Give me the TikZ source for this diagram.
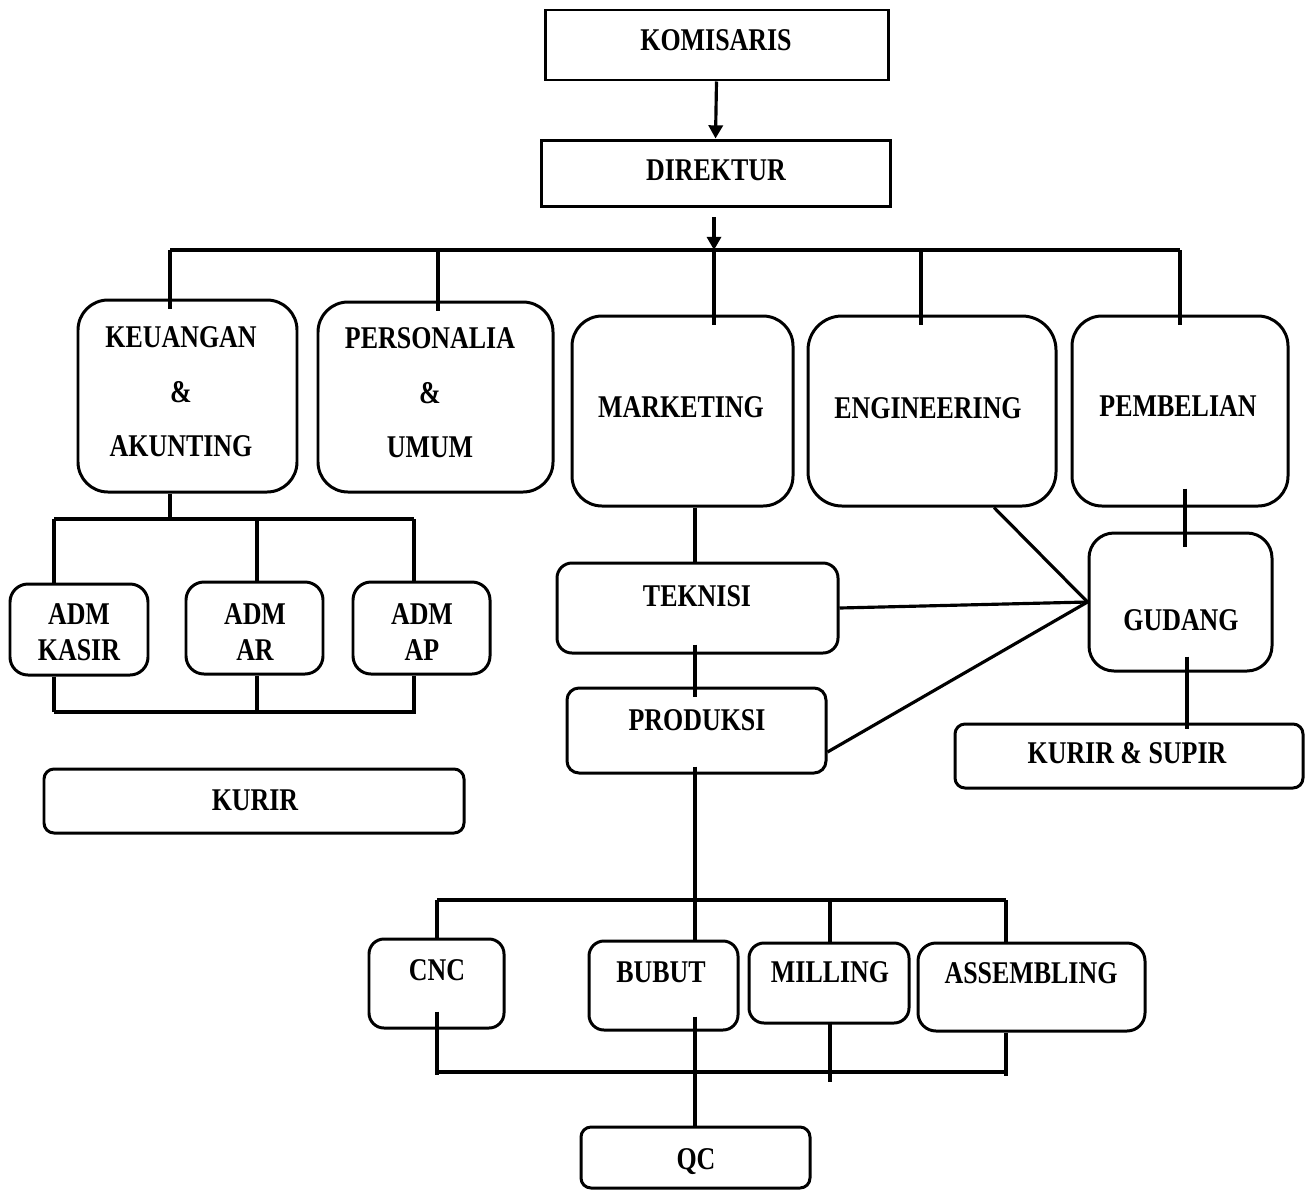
\documentclass[tikz,border=0pt]{standalone}
\usepackage{fontspec}
\newfontfamily\orgfont{Liberation Serif}[FakeStretch=0.82]
\usetikzlibrary{arrows.meta}
\tikzset{
  orgbox/.style={draw, line width=1.7pt, inner sep=0pt},
  orgtxt/.style={font=\orgfont\bfseries\fontsize{18}{31}\selectfont, align=center, inner sep=0pt},
  smalltxt/.style={font=\orgfont\bfseries\fontsize{18}{20.5}\selectfont, align=center, inner sep=0pt},
  conn/.style={line width=1.8pt},
  arrowconn/.style={line width=1.8pt, -{Triangle[length=7.5pt,width=8pt]}},
  poke/.style={shorten >=-0.2cm}
}
\newcommand\orgbox[6]{\node[orgbox, rounded corners={#6*0.02cm}, minimum width={(#4-#2)*0.02cm}, minimum height={(#5-#3)*0.02cm}] (#1) at ({(#2+#4)/2},{(#3+#5)/2}) {};}
\begin{document}
\begin{tikzpicture}[x=0.02cm,y=-0.02cm]
\useasboundingbox (0,0) rectangle (1311,1191);
% boxes
\orgbox{komisaris}{545}{10}{888}{80}{0}
\orgbox{direktur}{541}{140}{890}{206}{0}
\orgbox{keu}{78}{300}{297}{492}{30}
\orgbox{pers}{318}{302}{553}{492}{30}
\orgbox{mkt}{572}{316}{793}{506}{30}
\orgbox{eng}{808}{316}{1056}{506}{34}
\orgbox{pemb}{1072}{316}{1288}{506}{30}
\orgbox{kasir}{10}{584}{148}{675}{18}
\orgbox{ar}{186}{582}{323}{674}{18}
\orgbox{ap}{353}{582}{490}{674}{18}
\orgbox{kurir}{44}{769}{464}{833}{10}
\orgbox{teknisi}{557}{563}{838}{653}{15}
\orgbox{produksi}{567}{688}{826}{773}{12}
\orgbox{gudang}{1089}{533}{1272}{671}{25}
\orgbox{kursup}{955}{724}{1303}{788}{10}
\orgbox{cnc}{369}{939}{504}{1028}{15}
\orgbox{bubut}{589}{941}{738}{1030}{15}
\orgbox{milling}{749}{943}{909}{1023}{15}
\orgbox{assem}{918}{943}{1145}{1031}{18}
\orgbox{qc}{581}{1127}{810}{1188}{10}
% texts
\node[orgtxt] (t-komisaris) at (716,40) {KOMISARIS};
\node[orgtxt] (t-direktur) at (716,170) {DIREKTUR};
\node[orgtxt] (t-keu) at (181,392) {KEUANGAN\\\&\\AKUNTING};
\node[orgtxt] (t-pers) at (430,393) {PERSONALIA\\\&\\UMUM};
\node[orgtxt] (t-mkt) at (681,407) {MARKETING};
\node[orgtxt] (t-eng) at (928,408) {ENGINEERING};
\node[orgtxt] (t-pemb) at (1178,406) {PEMBELIAN};
\node[smalltxt] (t-kasir) at (79,632) {ADM\\KASIR};
\node[smalltxt] (t-ar) at (255,632) {ADM\\AR};
\node[smalltxt] (t-ap) at (422,632) {ADM\\AP};
\node[orgtxt] (t-kurir) at (255,800) {KURIR};
\node[orgtxt] (t-teknisi) at (697,596) {TEKNISI};
\node[orgtxt] (t-produksi) at (697,720) {PRODUKSI};
\node[orgtxt] (t-gudang) at (1181,620) {GUDANG};
\node[orgtxt] (t-kursup) at (1127,753) {KURIR \& SUPIR};
\node[orgtxt] (t-cnc) at (437,970) {CNC};
\node[orgtxt] (t-bubut) at (661,972) {BUBUT};
\node[orgtxt] (t-milling) at (830,972) {MILLING};
\node[orgtxt] (t-assem) at (1031,973) {ASSEMBLING};
\node[orgtxt] (t-qc) at (696,1162) {QC};
% coordinates
\coordinate (busA) at (170,250);
\coordinate (busB) at (1180,250);
\coordinate (dirx) at (714,250);
\coordinate (persx) at (438,250);
\coordinate (engx) at (921,250);
\coordinate (kx) at (170,519);
\coordinate (k1) at (54,519);
\coordinate (k2) at (257,519);
\coordinate (k3) at (414,519);
\coordinate (kb1) at (54,712);
\coordinate (kb2) at (257,712);
\coordinate (kb3) at (414,712);
\coordinate (kb4) at (416,712);
\coordinate (px) at (695,900);
\coordinate (p1) at (437,900);
\coordinate (p3) at (830,900);
\coordinate (p4) at (1006,900);
\coordinate (q1) at (437,1072);
\coordinate (q2) at (695,1072);
\coordinate (q3) at (830,1072);
\coordinate (q4) at (1006,1072);
\coordinate (gx) at (1185,0);
\coordinate (gy) at (1187,0);
% connectors top
\draw[arrowconn] (komisaris.south) -- (direktur.north);
\draw[arrowconn, shorten <=0.2cm] (direktur.south -| dirx) -- (dirx);
\draw[conn, poke] (dirx) -- (dirx |- mkt.north);
\draw[conn] (busA) -- (busB);
\draw[conn, poke] (busA) -- (busA |- keu.north);
\draw[conn, poke] (persx) -- (persx |- pers.north);
\draw[conn, poke] (engx) -- (engx |- eng.north);
\draw[conn, poke] (busB) -- (busB |- pemb.north);
% keuangan subtree
\draw[conn] (keu.south -| kx) -- (kx);
\draw[conn] (k1) -- (k3);
\draw[conn] (k1) -- (k1 |- kasir.north);
\draw[conn] (k2) -- (k2 |- ar.north);
\draw[conn] (k3) -- (k3 |- ap.north);
\draw[conn] (kasir.south -| kb1) -- (kb1);
\draw[conn] (ar.south -| kb2) -- (kb2);
\draw[conn] (ap.south -| kb3) -- (kb3);
\draw[conn] (kb1) -- (kb4);
% marketing chain
\draw[conn] (mkt.south -| px) -- (teknisi.north -| px);
\draw[conn, shorten <=-0.2cm, shorten >=-0.2cm] (teknisi.south -| px) -- (produksi.north -| px);
\draw[conn, shorten <=-0.16cm] (produksi.south -| px) -- (px);
\draw[conn] (p1) -- (p4);
\draw[conn] (p1) -- (p1 |- cnc.north);
\draw[conn] (px) -- (px |- bubut.north);
\draw[conn] (p3) -- (p3 |- milling.north);
\draw[conn] (p4) -- (p4 |- assem.north);
\draw[conn] (q1) -- (q4);
\draw[conn, shorten <=-0.36cm, shorten >=-0.06cm] (cnc.south -| q1) -- (q1);
\draw[conn, shorten <=-0.3cm] (bubut.south -| q2) -- (qc.north -| q2);
\draw[conn, shorten <=-0.06cm, shorten >=-0.2cm] (milling.south -| q3) -- (q3);
\draw[conn, shorten >=-0.08cm] (assem.south -| q4) -- (q4);
% gudang links
\draw[conn, shorten <=-0.38cm, shorten >=-0.3cm] (pemb.south -| gx) -- (gudang.north -| gx);
\draw[conn, shorten <=-0.32cm, shorten >=-0.12cm] (gudang.south -| gy) -- (kursup.north -| gy);
\draw[conn] (eng.south -| 994,0) -- (gudang.west);
\draw[conn] (teknisi.east) -- (gudang.west);
\draw[conn] (produksi.east |- 0,752) -- (gudang.west);
\end{tikzpicture}
\end{document}
